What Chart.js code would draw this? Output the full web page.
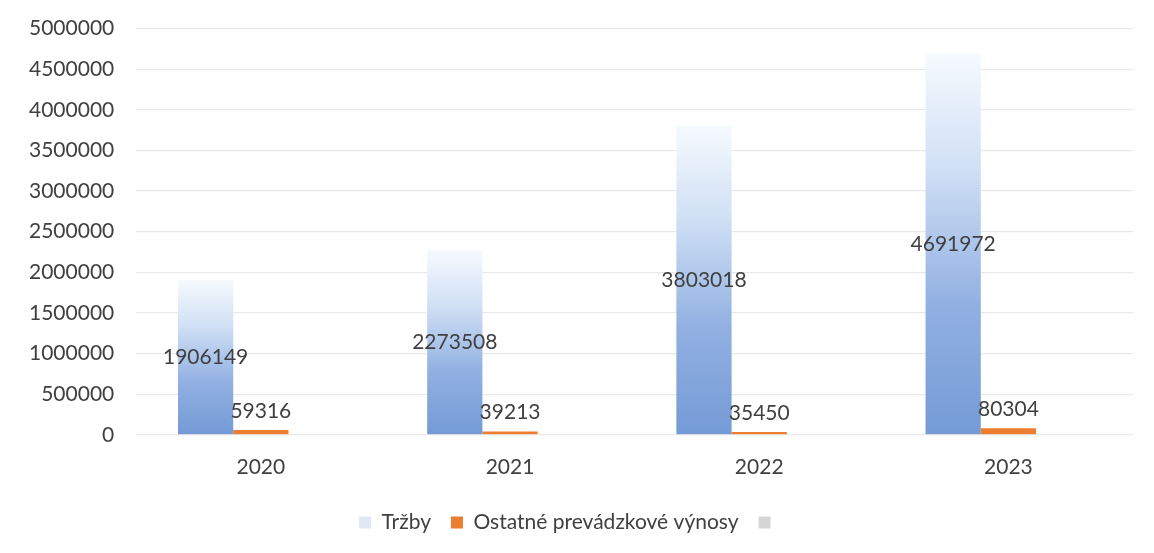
<!DOCTYPE html>
<html>
<head>
<meta charset="utf-8">
<script src="https://cdn.jsdelivr.net/npm/chart.js@4.4.1/dist/chart.umd.min.js"></script>
<style>
  html, body { margin: 0; padding: 0; background: #fff; overflow: hidden; }
  #okno { width: 1154px; height: 553px; overflow: hidden; position: relative; }
  #wrap { position: absolute; left: 0; top: -6px; width: 1154px; height: 559px; }
</style>
</head>
<body>
<div id="okno"><div id="wrap"><canvas id="graf"></canvas></div></div>
<script>
// dáta z grafu
const roky = ['2020', '2021', '2022', '2023'];
const trzby = [1906149, 2273508, 3803018, 4691972];
const ostatneVynosy = [59316, 39213, 35450, 80304];
const tretiaRada = [null, null, null, null]; // prázdna tretia séria (drží miesto v skupine)
const yMax = 5000000;
const yKrok = 500000;

// prechod farby na stĺpcoch Tržby (biela hore, modrá dole)
function modryPrechod(context) {
  const chart = context.chart;
  const hodnota = context.raw;
  if (!chart.chartArea || hodnota == null || context.type !== 'data') {
    return '#9dbbe6';
  }
  const y = chart.scales.y;
  const top = y.getPixelForValue(hodnota);
  const dno = y.getPixelForValue(0);
  const g = chart.ctx.createLinearGradient(0, top, 0, dno);
  g.addColorStop(0, 'rgba(246,250,254,1)');
  g.addColorStop(0.3, 'rgb(208,224,245)');
  g.addColorStop(0.65, 'rgb(146,177,226)');
  g.addColorStop(1, 'rgb(116,154,214)');
  return g;
}

// popisky hodnôt (bez doplnku datalabels)
const popiskyPlugin = {
  id: 'popisky',
  afterDatasetsDraw(chart) {
    const ctx = chart.ctx;
    ctx.save();
    ctx.font = '21px Lato';
    ctx.fillStyle = '#404040';
    ctx.textAlign = 'center';
    ctx.textBaseline = 'middle';
    chart.getDatasetMeta(0).data.forEach(function (bar, i) {
      ctx.fillText(String(trzby[i]), bar.x, (bar.y + bar.base) / 2);
    });
    chart.getDatasetMeta(1).data.forEach(function (bar, i) {
      ctx.fillText(String(ostatneVynosy[i]), bar.x, bar.y - 19);
    });
    ctx.restore();
  }
};

var ctx = document.getElementById('graf').getContext('2d');
var myChart = new Chart(ctx, {
  type: 'bar',
  data: {
    labels: roky,
    datasets: [{
      label: 'Tržby',
      data: trzby,
      backgroundColor: modryPrechod,
      borderWidth: 0
    }, {
      label: 'Ostatné prevádzkové výnosy',
      data: ostatneVynosy,
      backgroundColor: '#ed7d31',
      borderWidth: 0
    }, {
      label: '',
      data: tretiaRada,
      backgroundColor: '#d9d9d9',
      borderWidth: 0
    }]
  },
  options: {
    responsive: true,
    maintainAspectRatio: false,
    animation: false,
    layout: { padding: { left: 7, right: 21, top: 7, bottom: 10 } },
    datasets: {
      bar: { categoryPercentage: 0.665, barPercentage: 1 }
    },
    scales: {
      x: {
        grid: { display: false },
        border: { display: false },
        ticks: { color: '#404040', font: { family: 'Lato', size: 21 }, padding: 12 }
      },
      y: {
        min: 0,
        max: yMax,
        ticks: {
          stepSize: yKrok,
          color: '#404040',
          font: { family: 'Lato', size: 21 },
          padding: 22,
          callback: function (v) { return String(v); }
        },
        grid: { color: '#e9e9e9', drawTicks: false, lineWidth: 1.3 },
        border: { display: false }
      }
    },
    plugins: {
      tooltip: { enabled: false },
      legend: {
        position: 'bottom',
        labels: {
          color: '#404040',
          font: { family: 'Lato', size: 21 },
          boxWidth: 12,
          boxHeight: 12,
          padding: 20,
          generateLabels: function (chart) {
            const farby = ['#dfe8f4', '#ed7d31', '#d6d6d6'];
            return chart.data.datasets.map(function (ds, i) {
              return {
                text: ds.label,
                fillStyle: farby[i],
                strokeStyle: farby[i],
                lineWidth: 0,
                hidden: false,
                datasetIndex: i,
                fontColor: '#404040'
              };
            });
          }
        }
      }
    }
  },
  plugins: [popiskyPlugin]
});
</script>
</body>
</html>
